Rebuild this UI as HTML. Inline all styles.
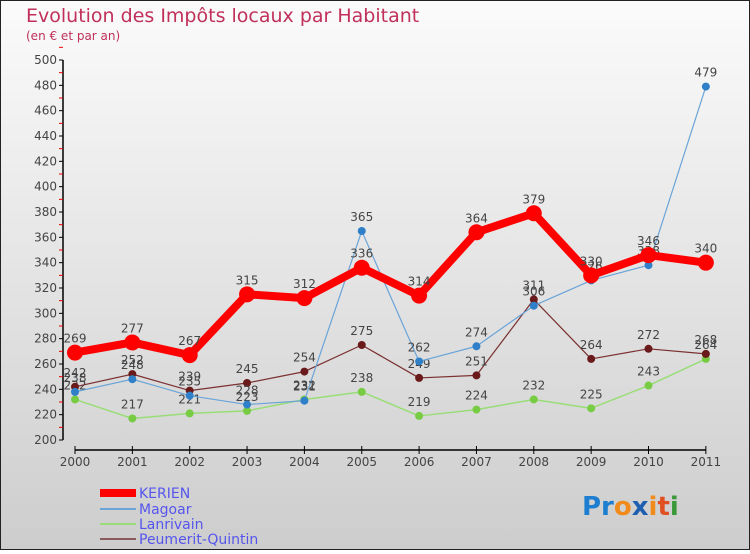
<!DOCTYPE html>
<html><head><meta charset="utf-8"><style>
body{margin:0;width:750px;height:550px;overflow:hidden;font-family:"DejaVu Sans","Liberation Sans",sans-serif}
</style></head><body>
<svg id="c" width="750" height="550" xmlns="http://www.w3.org/2000/svg">
<defs><linearGradient id="bg" x1="0" y1="0" x2="0" y2="1"><stop offset="0" stop-color="#fbfbfb"/><stop offset="1" stop-color="#cdcdcd"/></linearGradient></defs>
<rect x="0.5" y="0.5" width="749" height="549" fill="url(#bg)" stroke="#222"/>
<text x="26" y="22" font-size="19" fill="#c0305a">Evolution des Impôts locaux par Habitant</text>
<text x="26" y="40" font-size="12" fill="#c0305a">(en € et par an)</text>
<g id="axes"></g><g id="series"></g>
<g font-size="14" fill="#5555ee">
<rect x="100" y="489" width="36" height="8" fill="#f00"/><text x="139" y="498" fill="#5555ee">KERIEN</text>
<line x1="100" x2="136" y1="509" y2="509" stroke="#6aa4d8" stroke-width="2"/><text x="139" y="514" fill="#5555ee">Magoar</text>
<line x1="100" x2="136" y1="524" y2="524" stroke="#99dd77" stroke-width="2"/><text x="139" y="529" fill="#5555ee">Lanrivain</text>
<line x1="100" x2="136" y1="539" y2="539" stroke="#8b5a5a" stroke-width="2"/><text x="139" y="544" fill="#5555ee">Peumerit-Quintin</text>
</g>
<g font-size="26" font-weight="bold" font-family="'DejaVu Sans',sans-serif">
<text x="582" y="515"><tspan fill="#1e7fd0">Pr</tspan><tspan fill="#f08a1a">o</tspan><tspan fill="#1e5fb0">x</tspan><tspan fill="#f08a1a">i</tspan><tspan fill="#e05020">t</tspan><tspan fill="#3a9a3a">i</tspan></text>
</g>
</svg>
<script>
const years=["2000","2001","2002","2003","2004","2005","2006","2007","2008","2009","2010","2011"];
const kerien=[269,277,267,315,312,336,314,364,379,330,346,340];
const magoar=[238,248,235,228,231,365,262,274,306,326,338,479];
const lanrivain=[232,217,221,223,232,238,219,224,232,225,243,264];
const peumerit=[242,252,239,245,254,275,249,251,311,264,272,268];
const yTicks=[200,220,240,260,280,300,320,340,360,380,400,420,440,460,480,500];
const NS="http://www.w3.org/2000/svg";
const X=i=>75+i*57.35, Y=v=>440-(v-200)*380/300;
function mk(t,a,p){const e=document.createElementNS(NS,t);for(const k in a)e.setAttribute(k,a[k]);p.appendChild(e);return e;}
const ax=document.getElementById('axes'), sg=document.getElementById('series');
const ya=mk('line',{x1:63,x2:63,y1:60,y2:440,stroke:'#000','stroke-width':1.5},ax);


yTicks.forEach(v=>{
 mk('line',{x1:59,x2:63,y1:Y(v),y2:Y(v),stroke:'#000'},ax);
 mk('line',{x1:59,x2:63,y1:Y(v+10),y2:Y(v+10),stroke:'#e00'},ax);
 const t=mk('text',{x:57,y:Y(v)+4,'text-anchor':'end','font-size':12,fill:'#444'},ax);t.textContent=v;
 
 
});
const xa=mk('line',{x1:75,x2:X(11),y1:450,y2:450,stroke:'#000','stroke-width':1.5},ax);


years.forEach((y,i)=>{
 mk('line',{x1:X(i),x2:X(i),y1:446,y2:454,stroke:'#000'},ax);
 const t=mk('text',{x:X(i),y:466,'text-anchor':'middle','font-size':12,fill:'#444'},ax);t.textContent=y;
 
 
});
function series(d,name,col,w,r,dot){
 const g=mk('g',{},sg);
 
 
 mk('polyline',{points:d.map((v,i)=>X(i)+','+Y(v)).join(' '),fill:'none',stroke:col,'stroke-width':w,'stroke-linejoin':'round'},g);
 d.forEach((v,i)=>{
  const c=mk('circle',{cx:X(i),cy:Y(v),r:r,fill:dot},g);
  
  
  const t=mk('text',{x:X(i),y:Y(v)-10,'text-anchor':'middle','font-size':12,fill:'#444'},g);t.textContent=v;
  
  
 });
}
series(lanrivain,'lanrivain','#99dd77',1.5,4,'#77cc44');
series(peumerit,'peumerit-quintin','#7a3030',1.2,4,'#6a1a1a');
series(magoar,'magoar','#6aa4d8',1.2,4,'#2f80c8');
series(kerien,'kerien','#f00',8,8,'#f00');
</script>
</body></html>
